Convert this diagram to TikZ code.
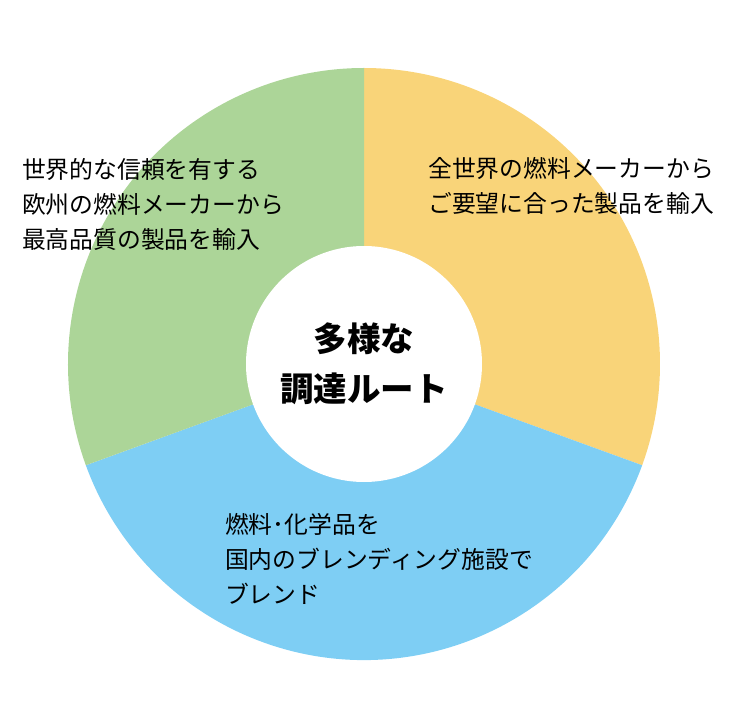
\documentclass[tikz,border=0pt]{standalone}
\usepackage{fontspec}
\setmainfont{Noto Sans CJK JP}
\usepackage{tikz}
\definecolor{leafgreen}{HTML}{ACD598}
\definecolor{sunyellow}{HTML}{F9D479}
\definecolor{skyblue}{HTML}{7ECEF4}

\begin{document}
\begin{tikzpicture}[
  x=1pt, y=1pt,
  seg/.style={draw=none},
  hub/.style={circle, fill=white, minimum size=236pt, inner sep=0pt, align=center, font=\fontsize{33.5}{50}\selectfont\bfseries},
  note/.style={anchor=west, align=left, inner sep=0pt, font=\fontsize{23.8}{35}\selectfont}
]
  \useasboundingbox (-364,-364) rectangle (364,364);

  % three supply segments
  \fill[seg, sunyellow] (0,0) -- (90:296pt) arc[start angle=90, end angle=-20, radius=296pt] -- cycle;
  \fill[seg, skyblue] (0,0) -- (-20:296pt) arc[start angle=-20, end angle=-160, radius=296pt] -- cycle;
  \fill[seg, leafgreen] (0,0) -- (200:296pt) arc[start angle=200, end angle=90, radius=296pt] -- cycle;

  \node[hub] (hub) at (0,0) {多様な\\調達ルート};

  \node[note] (europe) at (-342,160) {世界的な信頼を有する\\欧州の燃料メーカーから\\最高品質の製品を輸入};
  \node[note] (world) at (64,178.5) {全世界の燃料メーカーから\\ご要望に合った製品を輸入};
  \node[note] (domestic) at (-139,-195) {燃料･化学品を\\国内のブレンディング施設で\\ブレンド};
\end{tikzpicture}
\end{document}
